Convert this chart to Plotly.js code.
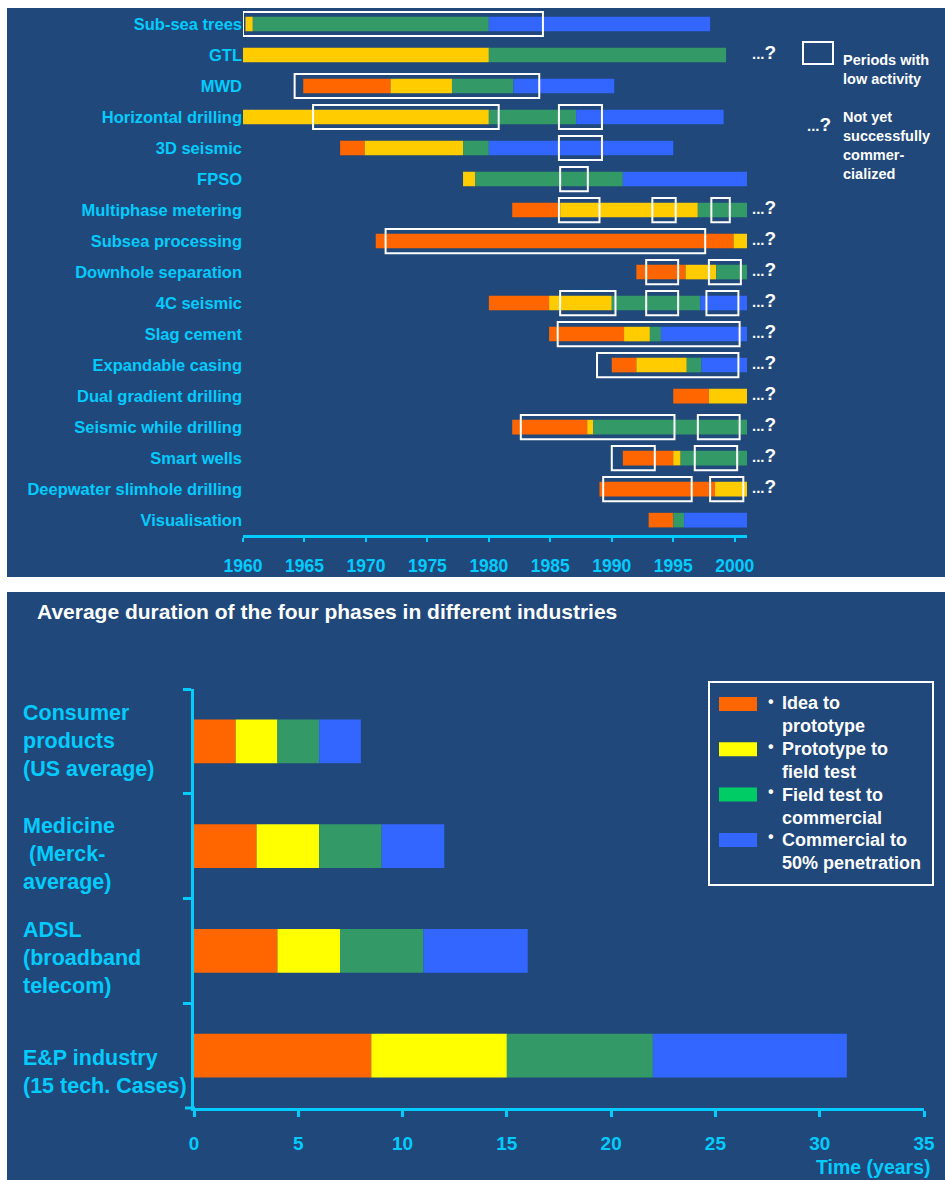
<!DOCTYPE html>
<html>
<head>
<meta charset="utf-8">
<script src="https://cdn.plot.ly/plotly-3.0.1.min.js"></script>
<style>html,body{margin:0;padding:0;background:#fff}#chart{width:945px;height:1180px}</style>
</head>
<body>
<div id="chart"></div>
<script>
// ---------------- TOP CHART DATA ----------------
const techs = ["Sub-sea trees","GTL","MWD","Horizontal drilling","3D seismic","FPSO","Multiphase metering","Subsea processing","Downhole separation","4C seismic","Slag cement","Expandable casing","Dual gradient drilling","Seismic while drilling","Smart wells","Deepwater slimhole drilling","Visualisation"];
// year at which each phase starts (null = phase not shown)
const ideaStart  = [null, null, 1964.9, null, 1967.9, null, 1981.9, 1970.8, 1992.0, 1980.0, 1984.9, 1990.0, 1995.0, 1981.9, 1990.9, 1989.0, 1993.0];
const protoStart = [1960.2, 1960.0, 1972.0, 1960.0, 1969.9, 1977.9, 1985.8, 1999.9, 1996.0, 1984.9, 1991.0, 1992.0, 1997.9, 1988.0, 1995.0, 1998.4, null];
const fieldStart = [1960.8, 1980.0, 1977.0, 1980.0, 1977.9, 1978.9, 1997.0, null, 1998.5, 1990.0, 1993.1, 1996.1, null, 1988.5, 1995.6, null, 1995.0];
const commStart  = [1980.0, null, 1982.0, 1987.1, 1980.0, 1990.9, null, null, null, 1997.2, 1994.0, 1997.3, null, null, null, null, 1995.9];
const lastYear   = [1998.0, 1999.3, 1990.2, 1999.1, 1995.0, 2001.0, 2001.0, 2001.0, 2001.0, 2001.0, 2001.0, 2001.0, 2001.0, 2001.0, 2001.0, 2001.1, 2001.0];
const notYetCommercial = [false, true, false, false, false, false, true, true, true, true, true, true, true, true, true, true, false];
// periods with low activity
const lowTech = ["Sub-sea trees","MWD","Horizontal drilling","Horizontal drilling","3D seismic","FPSO","Multiphase metering","Multiphase metering","Multiphase metering","Subsea processing","Downhole separation","Downhole separation","4C seismic","4C seismic","4C seismic","Slag cement","Expandable casing","Seismic while drilling","Seismic while drilling","Smart wells","Smart wells","Deepwater slimhole drilling","Deepwater slimhole drilling"];
const lowFrom = [1960.0, 1964.2, 1965.7, 1985.7, 1985.7, 1985.8, 1985.7, 1993.3, 1998.1, 1971.6, 1992.8, 1997.9, 1985.8, 1992.8, 1997.7, 1985.6, 1988.8, 1982.6, 1997.0, 1990.0, 1996.75, 1989.3, 1998.0];
const lowTo   = [1984.4, 1984.1, 1980.8, 1989.2, 1989.2, 1988.05, 1989.0, 1995.2, 1999.6, 1997.6, 1995.4, 2000.5, 1990.3, 1995.4, 2000.3, 2000.4, 2000.3, 1995.1, 2000.4, 1993.5, 2000.2, 1996.5, 2000.7];
const yearTicks = [1960, 1965, 1970, 1975, 1980, 1985, 1990, 1995, 2000];

// ---------------- BOTTOM CHART DATA ----------------
const industries = ["Consumer products (US average)", "Medicine (Merck-average)", "ADSL (broadband telecom)", "E&P industry (15 tech. Cases)"];
const industryLabels = ["Consumer<br>products<br>(US average)", "Medicine<br> (Merck-<br>average)", "ADSL<br>(broadband<br>telecom)", "E&amp;P industry<br>(15 tech. Cases)"];
const ideaToPrototype   = [2, 3, 4, 8.5];
const prototypeToField  = [2, 3, 3, 6.5];
const fieldToCommercial = [2, 3, 4, 7];
const commercialTo50    = [2, 3, 5, 9.3];
const phaseNames = ["Idea to<br>prototype", "Prototype to<br>field test", "Field test to<br>commercial", "Commercial to<br>50% penetration"];
const timeTicks = [0, 5, 10, 15, 20, 25, 30, 35];

// ---------------- STYLE ----------------
const W = 945, H = 1180;
const NAVY = '#20487a', CYAN = '#00ccff', WHITE = '#ffffff';
const topColors = ['#ff6600', '#ffcc00', '#339966', '#3366ff'];
const botColors = ['#ff6600', '#ffff00', '#339966', '#3366ff'];
const legendSwatch = ['#ff6600', '#ffff00', '#00cc66', '#3366ff'];
const FONT = 'Liberation Sans, Arial, sans-serif';
const px = v => v / W, py = v => 1 - v / H;
const QMARK = '...<span style="font-size:19px">?</span>';

const traces = [];
// top chart: one trace per phase
const starts = [ideaStart, protoStart, fieldStart, commStart];
for (let p = 0; p < 4; p++) {
  const ys = [], bases = [], lens = [];
  techs.forEach((t, i) => {
    const s = starts[p][i];
    if (s === null) return;
    let e = lastYear[i];
    for (let q = p + 1; q < 4; q++) { if (starts[q][i] !== null) { e = starts[q][i]; break; } }
    ys.push(t); bases.push(s); lens.push(e - s);
  });
  traces.push({type: 'bar', orientation: 'h', y: ys, x: lens, base: bases, xaxis: 'x', yaxis: 'y',
    width: 0.47, marker: {color: topColors[p], line: {width: 0}}, hoverinfo: 'skip'});
}
// bottom chart: stacked via cumulative base
const phases = [ideaToPrototype, prototypeToField, fieldToCommercial, commercialTo50];
const cum = industries.map(() => 0);
phases.forEach((vals, p) => {
  const b = cum.slice();
  vals.forEach((v, i) => cum[i] += v);
  traces.push({type: 'bar', orientation: 'h', y: industries, x: vals, base: b, xaxis: 'x2', yaxis: 'y2',
    width: 0.42, marker: {color: botColors[p], line: {width: 0}}, hoverinfo: 'skip'});
});

const shapes = [
  {type: 'rect', xref: 'paper', yref: 'paper', x0: px(7), x1: 1, y0: py(577), y1: py(8), fillcolor: NAVY, line: {width: 0}, layer: 'below'},
  {type: 'rect', xref: 'paper', yref: 'paper', x0: px(7), x1: 1, y0: 0, y1: py(592), fillcolor: NAVY, line: {width: 0}, layer: 'below'},
  // top legend box
  {type: 'rect', xref: 'paper', yref: 'paper', x0: px(803), x1: px(833), y0: py(64), y1: py(42), line: {color: WHITE, width: 2}},
  // bottom legend frame
  {type: 'rect', xref: 'paper', yref: 'paper', x0: px(709), x1: px(933), y0: py(885), y1: py(682), line: {color: WHITE, width: 2}},
  // x-axis extension at left of bottom chart
  {type: 'line', xref: 'paper', yref: 'paper', x0: px(185), x1: px(195), y0: py(1108), y1: py(1108), line: {color: CYAN, width: 3}}
];
lowTech.forEach((t, k) => {
  const i = techs.indexOf(t);
  shapes.push({type: 'rect', xref: 'x', yref: 'y', x0: lowFrom[k], x1: lowTo[k], y0: i - 0.39, y1: i + 0.39,
    line: {color: WHITE, width: 2}, fillcolor: 'rgba(0,0,0,0)', layer: 'above'});
});

const annotations = [];
techs.forEach((t, i) => {
  if (notYetCommercial[i]) annotations.push({xref: 'paper', yref: 'y', x: px(750), y: i, yshift: 3, xanchor: 'left', yanchor: 'middle',
    text: QMARK, showarrow: false, font: {family: FONT, size: 15, color: WHITE, weight: 700}});
});
annotations.push({xref: 'paper', yref: 'paper', x: px(841), y: py(69.5), xanchor: 'left', yanchor: 'middle', align: 'left',
  text: 'Periods with<br>low activity', showarrow: false, font: {family: FONT, size: 14.5, color: WHITE, weight: 700}});
annotations.push({xref: 'paper', yref: 'paper', x: px(805), y: py(124), xanchor: 'left', yanchor: 'middle',
  text: QMARK, showarrow: false, font: {family: FONT, size: 15, color: WHITE, weight: 700}});
annotations.push({xref: 'paper', yref: 'paper', x: px(841), y: py(145), xanchor: 'left', yanchor: 'middle', align: 'left',
  text: 'Not yet<br>successfully<br>commer-<br>cialized', showarrow: false, font: {family: FONT, size: 14.5, color: WHITE, weight: 700}});
// bottom category labels
const labelShift = [0, -8, -7, -16];
industryLabels.forEach((lab, i) => {
  annotations.push({xref: 'paper', yref: 'y2', x: px(21), y: i, yshift: labelShift[i], xanchor: 'left', yanchor: 'middle', align: 'left',
    text: lab, showarrow: false, font: {family: FONT, size: 21.5, color: CYAN, weight: 700}});
});
// bottom legend
phaseNames.forEach((n, k) => {
  const cy = 704 + k * 45.3;
  shapes.push({type: 'rect', xref: 'paper', yref: 'paper', x0: px(719), x1: px(757), y0: py(cy + 7), y1: py(cy - 7),
    fillcolor: legendSwatch[k], line: {width: 0}});
  annotations.push({xref: 'paper', yref: 'paper', x: px(766), y: py(cy - 3), xanchor: 'left', yanchor: 'middle',
    text: '•', showarrow: false, font: {family: FONT, size: 16, color: WHITE, weight: 700}});
  annotations.push({xref: 'paper', yref: 'paper', x: px(780), y: py(714.5 + k * 45.8), xanchor: 'left', yanchor: 'middle', align: 'left',
    text: n, showarrow: false, font: {family: FONT, size: 18, color: WHITE, weight: 700}});
});
annotations.push({xref: 'paper', yref: 'paper', x: px(933), y: py(1167), xanchor: 'right', yanchor: 'middle',
  text: 'Time (years)', showarrow: false, font: {family: FONT, size: 19.5, color: CYAN, weight: 700}});

const layout = {
  width: W, height: H,
  margin: {l: 0, r: 0, t: 0, b: 0, pad: 0},
  paper_bgcolor: WHITE, plot_bgcolor: 'rgba(0,0,0,0)',
  barmode: 'overlay', showlegend: false,
  font: {family: FONT},
  title: {text: 'Average duration of the four phases in different industries', xref: 'paper', yref: 'container',
    x: px(37), xanchor: 'left', y: py(612), yanchor: 'middle',
    font: {family: FONT, size: 21, color: WHITE, weight: 700}},
  xaxis: {domain: [px(243), px(747)], range: [1960, 2001], anchor: 'y', tickvals: yearTicks, ticktext: yearTicks.map(String),
    showgrid: false, zeroline: false, showline: true, linecolor: CYAN, linewidth: 3,
    ticks: 'outside', ticklen: 4, tickwidth: 2, tickcolor: CYAN, ticklabelstandoff: 9,
    tickfont: {family: FONT, size: 17.5, color: CYAN, weight: 700}},
  yaxis: {domain: [py(535), py(8.5)], type: 'category', categoryorder: 'array', categoryarray: techs, range: [16.48, -0.5],
    anchor: 'x', showgrid: false, zeroline: false, showline: false, ticks: '', ticklabelstandoff: 0,
    tickfont: {family: FONT, size: 16.5, color: CYAN, weight: 700}},
  xaxis2: {domain: [px(194), px(924)], range: [0, 35], anchor: 'y2', tickvals: timeTicks, ticktext: timeTicks.map(String),
    showgrid: false, zeroline: false, showline: true, linecolor: CYAN, linewidth: 3,
    ticks: 'outside', ticklen: 6, tickwidth: 3, tickcolor: CYAN, ticklabelstandoff: 10,
    tickfont: {family: FONT, size: 19, color: CYAN, weight: 700}},
  yaxis2: {domain: [py(1108), py(689)], type: 'category', categoryorder: 'array', categoryarray: industries, range: [3.5, -0.5],
    anchor: 'x2', showgrid: false, zeroline: false, showline: true, linecolor: CYAN, linewidth: 3,
    ticks: 'outside', tickson: 'boundaries', ticklen: 8, tickwidth: 3, tickcolor: CYAN, showticklabels: false},
  shapes: shapes,
  annotations: annotations
};

Plotly.newPlot('chart', traces, layout, {displayModeBar: false, staticPlot: true});
</script>
</body>
</html>
